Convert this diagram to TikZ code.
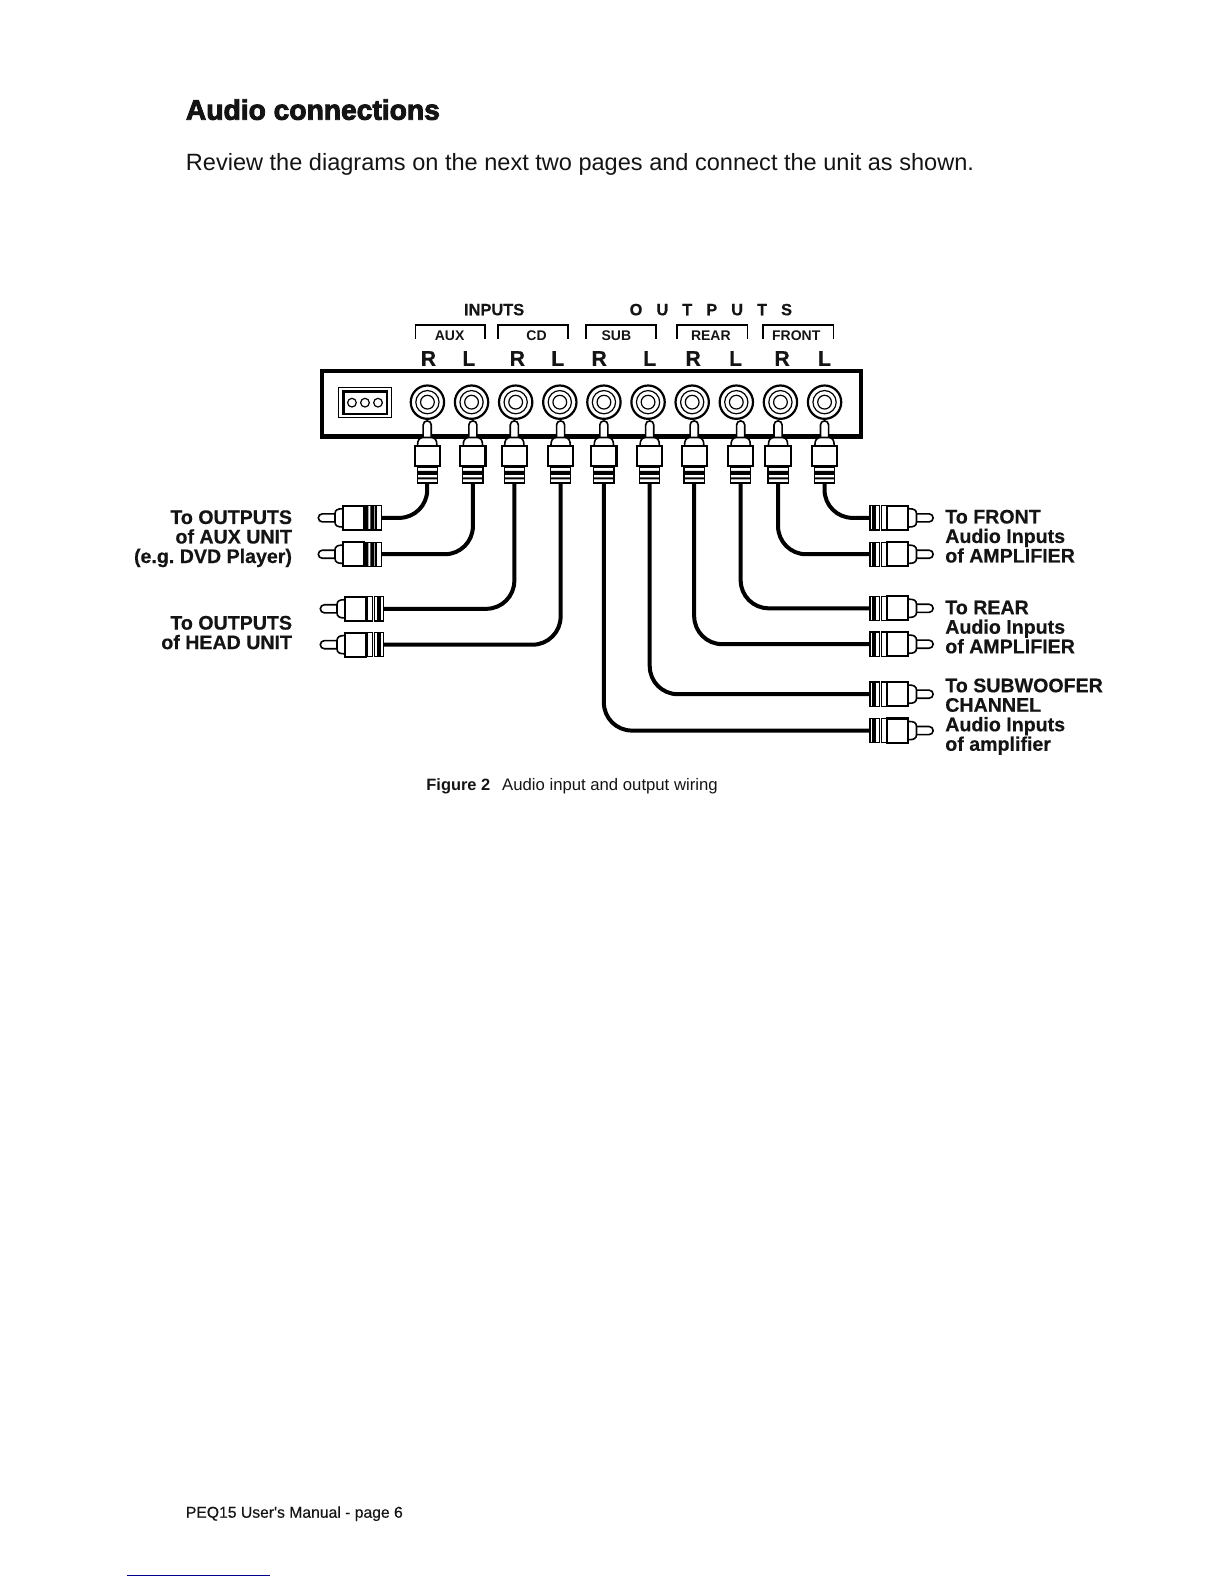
\documentclass[tikz,border=0pt]{standalone}
\usepackage{fontspec}
\setmainfont{Liberation Sans}
\newfontfamily\blk[FakeBold=3.2]{Liberation Sans Bold}
\newfontfamily\med[FakeBold=0.5]{Liberation Sans}
\newfontfamily\labf[FakeBold=0.4]{Liberation Sans Bold}
\lineskiplimit=-10pt\relax
\frenchspacing
\tikzset{
  x=0.505pt,y=-0.505pt,
  every node/.style={inner sep=0pt,outer sep=0pt,text=black!92},
  lab/.style={font=\fontsize{9.8}{9.75}\selectfont\labf},
  hdr/.style={font=\fontsize{8.2}{10}\selectfont\labf,anchor=base},
  sub/.style={font=\fontsize{7}{9}\selectfont\bfseries,anchor=base},
  rl/.style={font=\fontsize{10.6}{12}\selectfont\labf,anchor=base},
  cable/.style={line width=2pt,rounded corners=14pt},
  brk/.style={line width=0.75pt},
  jackring/.style={line width=1.1pt,fill=white},
  jackthin/.style={line width=0.6pt},
  pl/.style={line width=1.05pt,fill=white},
  plt/.style={line width=0.8pt,fill=white},
  rg/.style={line width=0.6pt,fill=white},
}
% local frame: +x along the plug away from the tip, 0 = front face of the body
\newcommand\plugcore[2]{%
  \draw[plt] (-8,-4) -- (-20.5,-4) arc[start angle=270,end angle=90,radius=4] -- (-8,4);
  \draw[plt] (1,-#2+3) -- (-1,-#2+3) .. controls (-5,-#2+3) and (-8,-8) .. (-8,-4) -- (-8,4) .. controls (-8,8) and (-5,#2-3) .. (-1,#2-3) -- (1,#2-3);
  \draw[pl] (0,-#2) rectangle (#1,#2);
}
\newcommand\ringsA[1]{% striped block then narrow white block
  \draw[rg] (22,-#1) rectangle (32,#1);
  \fill (22,-#1) rectangle (25,#1) (27,-#1) rectangle (31,#1);
  \draw[rg] (33,-#1) rectangle (38,#1);
}
\newcommand\ringsB[1]{% narrow white block then striped block
  \draw[rg] (22,-#1) rectangle (27,#1);
  \draw[rg] (29,-#1) rectangle (38,#1);
  \fill (32,-#1) rectangle (36,#1);
}
\newcommand\ringsV[1]{%
  \draw[rg] (22,-#1) rectangle (37,#1);
  \fill (25,-#1) rectangle (29,#1) (31.5,-#1) rectangle (33.5,#1);
}
% vertical plug: name, centre x
\newcommand\vplug[2]{%
  \coordinate (#1) at (#2,478);
  \begin{scope}[shift={(#2,441)},x={(0,-0.505pt)},y={(0.505pt,0)}]
    \plugcore{20}{12.5}\ringsV{10}
  \end{scope}}
% horizontal plug: name, body-front x, y, direction, rings
\newcommand\hplug[5]{%
  \coordinate (#1) at (#2+#4*38,#3);
  \begin{scope}[shift={(#2,#3)},xscale=#4]
    \plugcore{21}{12}#5{12}
  \end{scope}}
\begin{document}
\begin{tikzpicture}
\useasboundingbox (0,0) rectangle (1211.3,1567.6);
% page text
\node[anchor=base west,font=\fontsize{14.1}{16}\selectfont\blk] (title) at (184,118.5) {Audio connections};
\node[anchor=base west,font=\fontsize{11.77}{14}\selectfont] (intro) at (184,169) {Review the diagrams on the next two pages and connect the unit as shown.};
% headers
\node[hdr] (inputs) at (489,312) {INPUTS};
\node[hdr] (outputs) at (703.5,312) {\spaceskip=7pt O U T P U T S};
\foreach \n/\a/\b/\t/\c in {aux/411/480/AUX/445,cd/493/562/CD/531,sb/580/649/SUB/610,rear/670/740/REAR/703.5,front/755/825/FRONT/788}{
  \draw[brk] (\a,335) -- (\a,321.5) -- (\b,321.5) -- (\b,335);
  \node[sub] (\n) at (\c,337) {\t};
}
\foreach \n/\x/\t in {a/424/R,b/464/L,c/512/R,d/552/L,e/593/R,f/643/L,g/686/R,h/728/L,i/774/R,j/816/L}{
  \node[rl] (lab\n) at (\x,362) {\t};
}
% unit
\draw[line width=2.1pt] (319,367) rectangle (852,432);
\draw[line width=0.8pt] (335,383.5) rectangle (387.5,413);
\draw[line width=1.2pt] (340,387.5) rectangle (383,409.5);
\foreach \x in {348.3,361.2,374.1}{\draw[line width=0.6pt] (\x,398.5) circle[radius=4.3];}
\foreach \i in {0,...,9}{
  \pgfmathsetmacro\jx{423+43.67*\i}
  \draw[jackring] (\jx,398) circle[radius=16.5];
  \draw[jackthin] (\jx,398) circle[radius=11.5];
  \draw[jackthin] (\jx,398) circle[radius=6.8];
}
% free plugs
\hplug{la}{339.5}{512.5}{1}{\ringsA}
\hplug{lb}{339.5}{548.5}{1}{\ringsA}
\hplug{lc}{341.5}{602.5}{1}{\ringsB}
\hplug{ld}{341.5}{638}{1}{\ringsB}
\hplug{ra}{899}{512.5}{-1}{\ringsB}
\hplug{rb}{899}{548.5}{-1}{\ringsB}
\hplug{rc}{899}{602}{-1}{\ringsB}
\hplug{rd}{899}{637.5}{-1}{\ringsB}
\hplug{re}{899}{687}{-1}{\ringsB}
\hplug{rf}{899}{723}{-1}{\ringsB}
% plugs in the unit
\vplug{va}{422.8}
\vplug{vb}{468}
\vplug{vc}{509}
\vplug{vd}{554.8}
\vplug{ve}{597.6}
\vplug{vf}{643}
\vplug{vg}{687}
\vplug{vh}{733}
\vplug{vi}{770}
\vplug{vj}{816}
% cables
\foreach \v/\h in {va/la,vb/lb,vc/lc,vd/ld,ve/rf,vf/re,vg/rd,vh/rc,vi/rb,vj/ra}{
  \draw[cable] (\v) |- (\h);
}
% labels
\node[lab,align=right,anchor=north east] (t1) at (289,505) {To OUTPUTS\\of AUX UNIT\\(e.g. DVD Player)};
\node[lab,align=right,anchor=north east] (t2) at (289,609.5) {To OUTPUTS\\of HEAD UNIT};
\node[lab,align=left,anchor=north west] (t3) at (935.5,504.5) {To FRONT\\Audio Inputs\\of AMPLIFIER};
\node[lab,align=left,anchor=north west] (t4) at (935.5,594.5) {To REAR\\Audio Inputs\\of AMPLIFIER};
\node[lab,align=left,anchor=north west] (t5) at (935.5,671.5) {To SUBWOOFER\\CHANNEL\\Audio Inputs\\of amplifier};
% caption and footer
\node[anchor=base west,font=\fontsize{8.2}{10}\selectfont\bfseries] (figno) at (422,782.5) {Figure 2};
\node[anchor=base west,font=\fontsize{8.35}{10}\selectfont] (figcap) at (497,782.5) {Audio input and output wiring};
\node[anchor=base west,font=\fontsize{7.85}{10}\selectfont\med] (foot) at (184,1502) {PEQ15 User's Manual - page 6};
\draw[line width=0.6pt,color=blue!55!black] (126,1559.3) -- (267,1559.3);
\end{tikzpicture}
\end{document}
